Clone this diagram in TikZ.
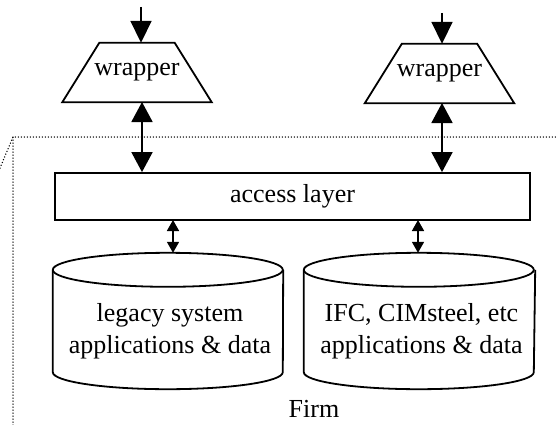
\documentclass[tikz,border=0pt]{standalone}
\usepackage{fontspec}
\setmainfont{Liberation Serif}
\usetikzlibrary{arrows.meta}
\begin{document}
\begin{tikzpicture}[x=1pt,y=-1pt,
  lbl/.style={font=\fontsize{26}{32}\selectfont, inner sep=0pt, align=center},
  shapeline/.style={line width=1.8pt, line join=miter},
  bigarr/.style={line width=1.8pt, -{Triangle[length=22pt,width=21pt]}},
  dblarr/.style={line width=1.8pt, {Triangle[length=20pt,width=21pt]}-{Triangle[length=20pt,width=21pt]}},
  smallarr/.style={line width=1.6pt, {Triangle[length=11pt,width=12pt]}-{Triangle[length=11pt,width=12pt]}},
  firmline/.style={line width=1.5pt, line cap=round, dash pattern=on 0pt off 3pt}]
\useasboundingbox (0,0) rectangle (556,425);
% firm boundary
\coordinate (fc) at (13,137);
\coordinate (fa) at (0,168);
\coordinate (fr) at (556,137);
\coordinate (fb) at (13,425);
\draw[firmline] (fa) -- (fc) -- (fr);
\draw[firmline] (fc) -- (fb);
% wrappers
\node[lbl, minimum width=149pt, minimum height=59pt] (w1) at (137,72.5) {wrapper};
\draw[shapeline] (w1.south west) -- (w1.south east) -- ([xshift=-37pt]w1.north east) -- ([xshift=37pt]w1.north west) -- cycle;
\node[lbl, minimum width=149pt, minimum height=59pt] (w2) at (439.5,73.5) {wrapper};
\draw[shapeline] (w2.south west) -- (w2.south east) -- ([xshift=-37pt]w2.north east) -- ([xshift=37pt]w2.north west) -- cycle;
% access layer
\node[lbl, draw, shapeline, minimum width=475pt, minimum height=47pt] (al) at (292.5,196.5) {access layer};
% cylinders
\node[minimum width=230pt, minimum height=136pt, inner sep=0pt] (c1) at (168,321) {};
\node[minimum width=231pt, minimum height=136pt, inner sep=0pt] (c2) at (419.5,321) {};
\foreach \c in {c1,c2}{
  \draw[shapeline] ([yshift=-17pt]\c.north west) -- ([yshift=17pt]\c.south west)
     arc[start angle=180, end angle=360, x radius=115pt, y radius=17pt]
     -- ([yshift=-17pt]\c.north east);
  \draw[shapeline] ([yshift=-17pt]\c.north west) arc[start angle=180, end angle=-180, x radius=115pt, y radius=17pt];
}
\node[lbl] (t1) at (170,331) {legacy system\\applications \& data};
\node[lbl] (t2) at (421.5,331) {IFC, CIMsteel, etc\\applications \& data};
\node[lbl] (firm) at (314,409) {Firm};
% arrows
\coordinate (in1) at (141,7);
\coordinate (in2) at (442,13);
\draw[bigarr] (in1) -- (in1 |- w1.north);
\draw[bigarr] (in2) -- (in2 |- w2.north);
\draw[dblarr] (142,102) coordinate (a1) -- (a1 |- al.north);
\draw[dblarr] (442,103) coordinate (a2) -- (a2 |- al.north);
\draw[smallarr] (173,220) coordinate (b1) -- (b1 |- c1.north);
\draw[smallarr] (418,220) coordinate (b2) -- (b2 |- c2.north);
\end{tikzpicture}
\end{document}
